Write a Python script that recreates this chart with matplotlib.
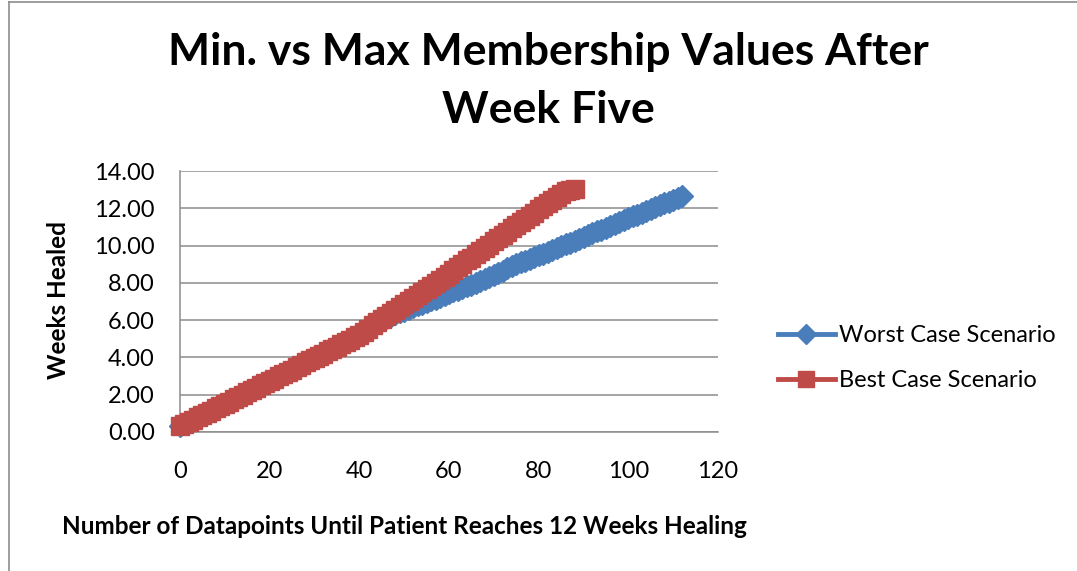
import matplotlib
matplotlib.use('Agg')
import matplotlib.pyplot as plt
import matplotlib.ticker as ticker
from matplotlib.lines import Line2D

plt.rcParams['font.family'] = ['Lato', 'DejaVu Sans']

# weeks healed per datapoint
best_case = [
    0.30, 0.42, 0.55, 0.66, 0.78, 0.92, 1.03, 1.15, 1.28, 1.40,
    1.52, 1.63, 1.76, 1.90, 2.00, 2.12, 2.26, 2.38, 2.50, 2.62,
    2.75, 2.86, 2.98, 3.12, 3.24, 3.35, 3.48, 3.60, 3.73, 3.85,
    3.98, 4.08, 4.20, 4.34, 4.46, 4.57, 4.70, 4.84, 4.96, 5.08,
    5.22, 5.38, 5.55, 5.72, 5.88, 6.04, 6.20, 6.36, 6.52, 6.70,
    6.86, 7.02, 7.18, 7.34, 7.52, 7.68, 7.84, 8.00, 8.18, 8.34,
    8.50, 8.68, 8.85, 9.02, 9.20, 9.36, 9.54, 9.72, 9.88, 10.05,
    10.22, 10.40, 10.56, 10.74, 10.92, 11.08, 11.25, 11.42, 11.60, 11.76,
    11.94, 12.10, 12.28, 12.45, 12.62, 12.78, 12.92, 13.00, 13.05,
]
worst_case = [
    0.30, 0.42, 0.55, 0.66, 0.78, 0.92, 1.03, 1.15, 1.28, 1.40,
    1.52, 1.63, 1.76, 1.90, 2.00, 2.12, 2.26, 2.38, 2.50, 2.62,
    2.75, 2.86, 2.98, 3.12, 3.24, 3.35, 3.48, 3.60, 3.73, 3.85,
    3.98, 4.08, 4.20, 4.34, 4.46, 4.57, 4.70, 4.84, 4.96, 5.08,
    5.22, 5.38, 5.55, 5.72, 5.88, 6.04, 6.13, 6.22, 6.32, 6.41,
    6.50, 6.60, 6.69, 6.79, 6.88, 6.97, 7.07, 7.16, 7.26, 7.35,
    7.44, 7.54, 7.63, 7.72, 7.82, 7.91, 8.00, 8.10, 8.21, 8.32,
    8.44, 8.55, 8.66, 8.78, 8.89, 9.00, 9.10, 9.18, 9.28, 9.38,
    9.48, 9.56, 9.66, 9.76, 9.86, 9.96, 10.06, 10.16, 10.26, 10.36,
    10.46, 10.56, 10.66, 10.76, 10.86, 10.96, 11.06, 11.16, 11.26, 11.36,
    11.46, 11.56, 11.66, 11.76, 11.86, 11.96, 12.06, 12.16, 12.26, 12.36,
    12.46, 12.56, 12.66,
]
series_names = ['Worst Case Scenario', 'Best Case Scenario']
title_lines = ['Min. vs Max Membership Values After', 'Week Five']
x_title = 'Number of Datapoints Until Patient Reaches 12 Weeks Healing'
y_title = 'Weeks Healed'

BLUE = '#4A7EBB'
RED = '#BE4B48'
GRID = '#8C8C8C'

W, H = 1077, 571
fig = plt.figure(figsize=(W / 100, H / 100), dpi=100)
ax = fig.add_axes([180 / W, 1 - 432 / H, 538 / W, 261 / H])

ax.plot(range(len(worst_case)), worst_case, color=BLUE, lw=3.5, marker='D',
        ms=11, mfc=BLUE, mec=BLUE, clip_on=False, zorder=3,
        label=series_names[0])
ax.plot(range(len(best_case)), best_case, color=RED, lw=3.5, marker='s',
        ms=13.5, mfc=RED, mec=RED, clip_on=False, zorder=4,
        label=series_names[1])

ax.set_xlim(0, 120)
ax.set_ylim(0, 14)
ax.xaxis.set_major_locator(ticker.MultipleLocator(20))
ax.yaxis.set_major_locator(ticker.MultipleLocator(2))
ax.yaxis.set_major_formatter(ticker.FormatStrFormatter('%.2f'))
ax.grid(axis='y', color=GRID, lw=1.1, zorder=0)
ax.set_axisbelow(True)
for side in ['top', 'right']:
    ax.spines[side].set_visible(False)
for side in ['left', 'bottom']:
    ax.spines[side].set_color(GRID)
    ax.spines[side].set_linewidth(1.1)
ax.tick_params(axis='x', length=0, pad=21, labelsize=17)
ax.tick_params(axis='y', length=0, pad=18, labelsize=17)

fig.text(548 / W, 1 - 52 / H, title_lines[0], ha='center', va='center',
         fontsize=32, fontweight='bold')
fig.text(548 / W, 1 - 110 / H, title_lines[1], ha='center', va='center',
         fontsize=32, fontweight='bold')
fig.text(404 / W, 1 - 527 / H, x_title, ha='center', va='center',
         fontsize=17.5, fontweight='bold')
fig.text(58 / W, 1 - 300 / H, y_title, ha='center', va='center',
         rotation=90, fontsize=17.5, fontweight='bold')

ax.legend(loc='center left', bbox_to_anchor=(778 / W, 1 - 358 / H),
          bbox_transform=fig.transFigure, frameon=False, fontsize=17,
          handlelength=2.4, handletextpad=0.2, labelspacing=1.0,
          borderpad=0, borderaxespad=0, numpoints=1, markerscale=0.9)

# chart border (only left and top edges are inside the picture)
fig.add_artist(Line2D([8.5 / W, 8.5 / W], [0, 1 - 1.5 / H], color=GRID,
                      lw=1.2, transform=fig.transFigure))
fig.add_artist(Line2D([8.5 / W, 1], [1 - 1.5 / H, 1 - 1.5 / H], color=GRID,
                      lw=1.2, transform=fig.transFigure))

fig.savefig('out.png', dpi=100)
